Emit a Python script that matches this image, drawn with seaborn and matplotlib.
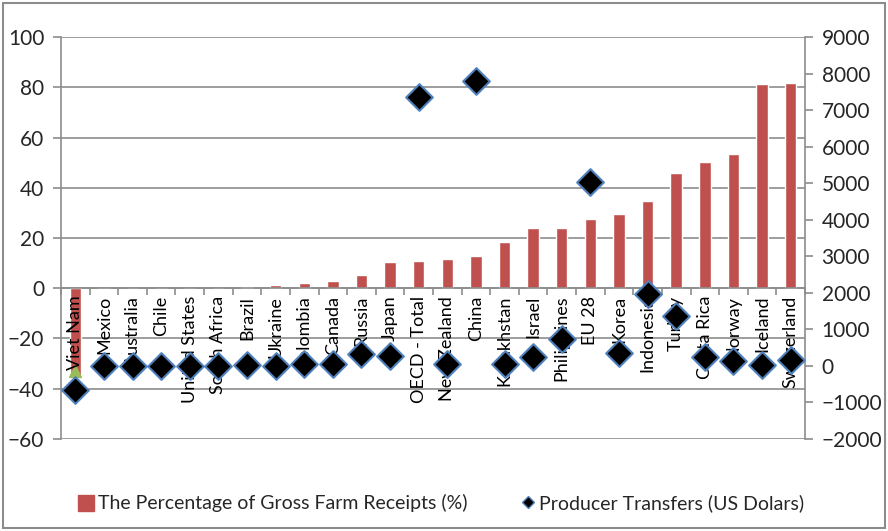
import matplotlib
matplotlib.use('Agg')
import matplotlib.pyplot as plt
import matplotlib.patches as mpatches
from matplotlib.lines import Line2D
import seaborn as sns
import numpy as np

# Data
countries = ['Viet Nam', 'Mexico', 'Australia', 'Chile', 'United States',
             'South Africa', 'Brazil', 'Ukraine', 'Colombia', 'Canada',
             'Russia', 'Japan', 'OECD - Total', 'New Zealand', 'China',
             'Kazakhstan', 'Israel', 'Philippines', 'EU 28', 'Korea',
             'Indonesia', 'Turkey', 'Costa Rica', 'Norway', 'Iceland',
             'Switzerland']
pct_receipts = [-35, -0.3, 0.1, 0.1, 0.1, 0.1, 0.3, 1.2, 2.0, 3.0,
                5.3, 10.4, 10.7, 11.6, 12.8, 18.5, 23.8, 24.1, 27.4, 29.6,
                34.7, 46.0, 50.1, 53.6, 81.2, 81.7]
transfers_usd = [-650, 10, 5, 5, 5, 5, 30, 10, 50, 50,
                 330, 280, 7360, 45, 7800, 45, 240, 730, 5030, 365,
                 1970, 1370, 230, 145, 30, 165]
# stray marker near Viet Nam bar in the source chart
extra_marker = [-33]

left_ticks = [-60, -40, -20, 0, 20, 40, 60, 80, 100]
right_ticks = [-2000, -1000, 0, 1000, 2000, 3000, 4000, 5000, 6000,
               7000, 8000, 9000]

# Colours
RED = '#C0504D'
BLUE_EDGE = '#4F81BD'
GREEN = '#9BBB59'
GRID = '#8C8C8C'

sns.set_style('white')
plt.rcParams['font.family'] = ['Lato', 'DejaVu Sans']

fig = plt.figure(figsize=(8.88, 5.31), dpi=100)
ax = fig.add_axes([0.0687, 0.1733, 0.8378, 0.757])

sns.barplot(x=countries, y=pct_receipts, color=RED, width=0.4,
            saturation=1, ax=ax, zorder=2)
ax.set_xlim(-0.5, len(countries) - 0.5)
ax.set_ylim(-60, 100)
ax.set_yticks(left_ticks)
ax.yaxis.grid(True, color=GRID, linewidth=1.2, zorder=0)
ax.set_axisbelow(True)

for s in ['top', 'right']:
    ax.spines[s].set_visible(False)
ax.spines['left'].set_color(GRID)
ax.spines['left'].set_linewidth(1.2)
ax.spines['bottom'].set_position(('data', 0))
ax.spines['bottom'].set_color(GRID)
ax.spines['bottom'].set_linewidth(1.2)

ax.set_xticks(np.arange(len(countries) + 1) - 0.5)
ax.set_xticklabels([])
ax.tick_params(axis='x', direction='out', length=5, width=1.2,
               color=GRID, bottom=True)
ax.tick_params(axis='y', direction='out', length=6, width=1.2,
               color=GRID, left=True, labelsize=15, pad=6)

# category labels hanging below the zero line
for name in countries:
    ax.text(name, -3, name, rotation=90, ha='center', va='top',
            fontsize=13, color='black', zorder=3)

ax.plot(countries[:1], extra_marker, marker='^', color=GREEN,
        markersize=9, linestyle='none', zorder=2)

# right axis
ax2 = ax.twinx()
sns.scatterplot(x=countries, y=transfers_usd, marker='D', s=185,
                color='black', edgecolor=BLUE_EDGE, linewidth=1.5,
                ax=ax2, zorder=4, legend=False)
ax2.set_ylim(-2000, 9000)
ax2.set_yticks(right_ticks)
for s in ['top', 'left', 'bottom']:
    ax2.spines[s].set_visible(False)
ax2.spines['right'].set_color(GRID)
ax2.spines['right'].set_linewidth(1.2)
ax2.tick_params(axis='y', direction='out', length=6, width=1.2,
                color=GRID, right=True, labelsize=15, pad=6)
ax2.set_ylabel('')
ax.set_ylabel('')

# legend
handles = [
    mpatches.Patch(color=RED, label='The Percentage of Gross Farm Receipts (%)'),
    Line2D([], [], marker='D', color='black', markeredgecolor=BLUE_EDGE,
           markersize=6, linestyle='none',
           label='Producer Transfers (US Dolars)'),
]
fig.legend(handles=handles, loc='center', bbox_to_anchor=(0.497, 0.052),
           ncol=2, frameon=False, fontsize=14, columnspacing=2.7,
           handlelength=0.8, handleheight=0.9, handletextpad=0.2)

# outer chart border
fig.patches.append(mpatches.Rectangle((0.003, 0.005), 0.994, 0.99,
                                      transform=fig.transFigure,
                                      fill=False, edgecolor=GRID,
                                      linewidth=1.5))

fig.savefig('out.png', dpi=100, facecolor='white')
